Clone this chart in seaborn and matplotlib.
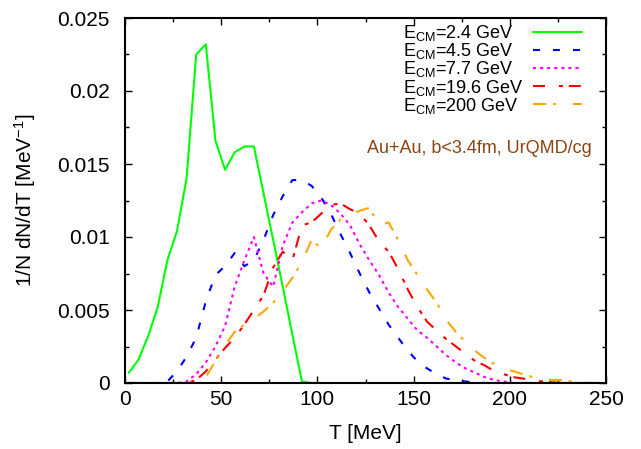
import pandas as pd
import seaborn as sns
import matplotlib.pyplot as plt
from matplotlib.ticker import MultipleLocator, FuncFormatter

# temperature grid [MeV]
T = [2, 7, 12, 17, 22, 27, 32, 37, 42, 47, 52, 57, 62, 67, 72, 77, 82, 87, 92, 97,
     102, 107, 112, 117, 122, 127, 132, 137, 142, 147, 152, 157, 162, 167, 172, 177,
     182, 187, 192, 197, 202, 207, 212, 217, 222, 227, 232, 237, 242, 247]

e_2p4 = [0.0007, 0.0016, 0.0032, 0.0052, 0.0084, 0.0104, 0.0140, 0.0225, 0.0232, 0.0166,
         0.0146, 0.0158, 0.0162, 0.0162, 0.0130, 0.0098, 0.0066, 0.0033, 0.0001, 0,
         0, 0, 0, 0, 0, 0, 0, 0, 0, 0, 0, 0, 0, 0, 0, 0,
         0, 0, 0, 0, 0, 0, 0, 0, 0, 0, 0, 0, 0, 0]

e_4p5 = [0, 0, 0, 0, 0.0001, 0.0008, 0.0018, 0.0031, 0.0056, 0.0074,
         0.0080, 0.0089, 0.0080, 0.0084, 0.0098, 0.0115, 0.0128, 0.0139, 0.0139, 0.0135,
         0.0127, 0.0116, 0.0102, 0.0089, 0.0075, 0.0062, 0.0051, 0.0040, 0.0031, 0.0022,
         0.0015, 0.0010, 0.0006, 0.0003, 0.0002, 0.0001, 0.00005, 0, 0, 0,
         0, 0, 0, 0, 0, 0, 0, 0, 0, 0]

e_7p7 = [0, 0, 0, 0, 0, 0, 0.0001, 0.0006, 0.0014, 0.0025,
         0.0039, 0.0066, 0.0084, 0.0100, 0.0075, 0.0066, 0.0094, 0.0110, 0.0117, 0.0123,
         0.0125, 0.0122, 0.0116, 0.0108, 0.0095, 0.0084, 0.0074, 0.0062, 0.0052, 0.0044,
         0.0036, 0.0031, 0.0025, 0.0019, 0.0014, 0.0010, 0.0007, 0.0004, 0.0002, 0.0001,
         0, 0, 0, 0, 0, 0, 0, 0, 0, 0]

e_19p6 = [0, 0, 0, 0, 0, 0, 0, 0.0002, 0.0008, 0.0016,
          0.0024, 0.0031, 0.0040, 0.0050, 0.0060, 0.0079, 0.0090, 0.0084, 0.0108, 0.0110,
          0.0116, 0.0122, 0.0123, 0.0119, 0.0116, 0.0108, 0.0097, 0.0090, 0.0078, 0.0064,
          0.0052, 0.0042, 0.0036, 0.0030, 0.0025, 0.0020, 0.0015, 0.0012, 0.0008, 0.0006,
          0.0004, 0.0003, 0.0002, 0.0001, 0.00005, 0, 0, 0, 0, 0]

e_200 = [0, 0, 0, 0, 0, 0, 0, 0.0001, 0.0004, 0.0015,
         0.0026, 0.0035, 0.0040, 0.0044, 0.0049, 0.0055, 0.0063, 0.0072, 0.0083, 0.0098,
         0.0092, 0.0105, 0.0112, 0.0115, 0.0118, 0.0120, 0.0108, 0.0110, 0.0098, 0.0084,
         0.0074, 0.0064, 0.0055, 0.0043, 0.0035, 0.0028, 0.0022, 0.0017, 0.0013, 0.0010,
         0.0008, 0.0006, 0.0004, 0.0003, 0.0002, 0.0002, 0.0001, 0.0001, 0, 0]

labels = [r'E$_{\rm CM}$=2.4 GeV', r'E$_{\rm CM}$=4.5 GeV', r'E$_{\rm CM}$=7.7 GeV',
          r'E$_{\rm CM}$=19.6 GeV', r'E$_{\rm CM}$=200 GeV']

df = pd.DataFrame({'T': T, 'e_2p4': e_2p4, 'e_4p5': e_4p5, 'e_7p7': e_7p7,
                   'e_19p6': e_19p6, 'e_200': e_200})

sns.set_theme(style='ticks')
plt.rcParams['font.family'] = ['Liberation Sans', 'DejaVu Sans']
plt.rcParams['mathtext.fontset'] = 'custom'
plt.rcParams['mathtext.rm'] = 'Liberation Sans'
plt.rcParams['mathtext.it'] = 'Liberation Sans:italic'
plt.rcParams['lines.scale_dashes'] = False
plt.rcParams['text.color'] = 'black'
plt.rcParams['axes.labelcolor'] = 'black'
plt.rcParams['xtick.color'] = 'black'
plt.rcParams['ytick.color'] = 'black'

fig = plt.figure(figsize=(6.41, 4.49), dpi=100)
ax = fig.add_axes([125 / 641, 1 - 383 / 449, 481 / 641, 365 / 449])

# 颜色和线型
styles = [
    ('e_2p4', '#00ff00', '-'),
    ('e_4p5', '#0000ff', (0, (5, 9.4))),
    ('e_7p7', '#ff00ff', (0, (2.2, 2.9))),
    ('e_19p6', '#ff0000', (0, (8.6, 10, 2.9, 4.3))),
    ('e_200', '#ffa500', (0, (9.4, 5, 2.2, 12.2))),
]
for (col, color, ls), lab in zip(styles, labels):
    sns.lineplot(data=df, x='T', y=col, ax=ax, color=color, linestyle=ls,
                 linewidth=1.5, label=lab)

ax.set_xlim(0, 250)
ax.set_ylim(0, 0.025)
ax.xaxis.set_major_locator(MultipleLocator(50))
ax.xaxis.set_minor_locator(MultipleLocator(25))
ax.yaxis.set_major_locator(MultipleLocator(0.005))
ax.yaxis.set_minor_locator(MultipleLocator(0.0025))
ax.yaxis.set_major_formatter(FuncFormatter(lambda v, p: f'{v:g}'))
ax.tick_params(which='both', direction='in', top=True, right=True, labelsize=15,
               width=1.0, color='black')
ax.tick_params(axis='x', which='major', length=5, pad=5)
ax.tick_params(axis='y', which='major', length=5, pad=11)
ax.tick_params(which='minor', length=3)
for s in ax.spines.values():
    s.set_linewidth(1.5)
    s.set_color('black')

ax.set_xlabel('T [MeV]', fontsize=15)
ax.set_ylabel('1/N dN/dT [MeV$^{-1}$]', fontsize=15)
ax.xaxis.set_label_coords(0.5, -0.112)
ax.yaxis.set_label_coords(-0.181, 0.5)

leg = ax.legend(loc='upper right', bbox_to_anchor=(582 / 641, 1 - 23 / 449),
                bbox_transform=fig.transFigure, frameon=False, markerfirst=False,
                fontsize=13, handlelength=2.7, handletextpad=0.5,
                labelspacing=-0.1, borderpad=0, borderaxespad=0)

# 文本左对齐，图例线段右对齐
fig.canvas.draw()
renderer = fig.canvas.get_renderer()
widths = [t.get_window_extent(renderer).width for t in leg.get_texts()]
maxw = max(widths)
base = 0.5 * 13
for column in leg._legend_handle_box.get_children():
    for item, w in zip(column.get_children(), widths):
        item.sep = base + (maxw - w) * 72 / fig.dpi

fig.text(592 / 641, 1 - 153 / 449, 'Au+Au, b<3.4fm, UrQMD/cg', color='#8B4513',
         fontsize=13, ha='right', va='baseline')

plt.savefig('out.png', dpi=100)
